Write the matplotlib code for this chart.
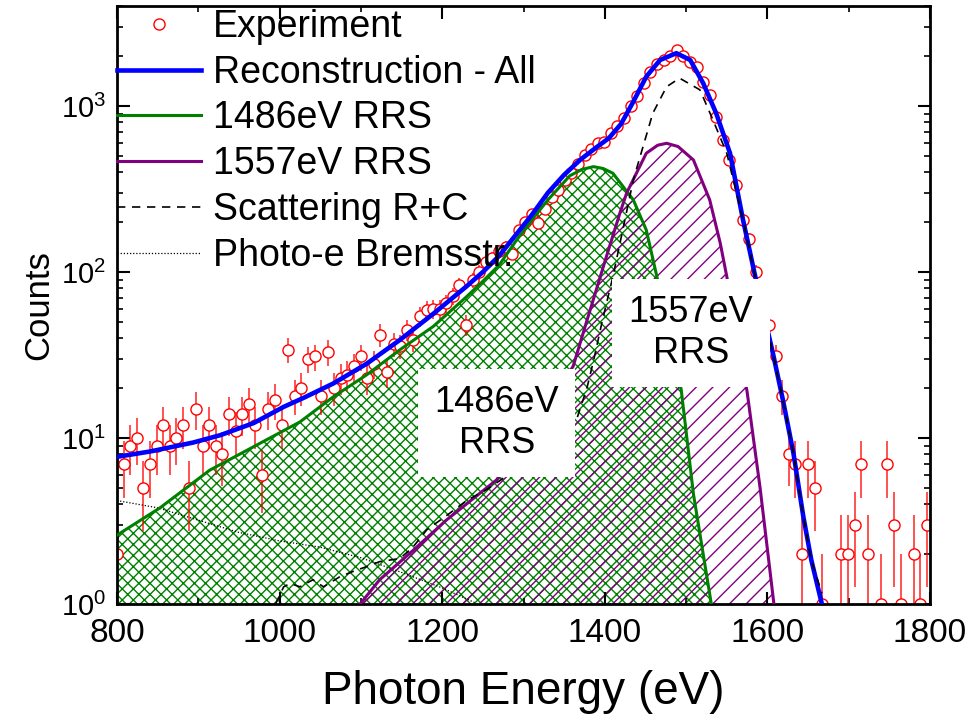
import numpy as np
import matplotlib
matplotlib.use("Agg")
import matplotlib.pyplot as plt
from matplotlib.ticker import LogLocator, MultipleLocator, NullFormatter

plt.rcParams['font.family'] = ['Liberation Sans', 'DejaVu Sans']
plt.rcParams['hatch.linewidth'] = 1.0

# measured spectrum (8.1 eV channels), 0 = empty channel
energy = [
    800.0, 808.1, 816.2, 824.3, 832.4, 840.5, 848.6, 856.7, 864.8, 872.9,
    881.0, 889.1, 897.2, 905.3, 913.4, 921.5, 929.6, 937.7, 945.8, 953.9,
    962.0, 970.1, 978.2, 986.3, 994.4, 1002.5, 1010.6, 1018.7, 1026.8, 1034.9,
    1043.0, 1051.1, 1059.2, 1067.3, 1075.4, 1083.5, 1091.6, 1099.7, 1107.8, 1115.9,
    1124.0, 1132.1, 1140.2, 1148.3, 1156.4, 1164.5, 1172.6, 1180.7, 1188.8, 1196.9,
    1205.0, 1213.1, 1221.2, 1229.3, 1237.4, 1245.5, 1253.6, 1261.7, 1269.8, 1277.9,
    1286.0, 1294.1, 1302.2, 1310.3, 1318.4, 1326.5, 1334.6, 1342.7, 1350.8, 1358.9,
    1367.0, 1375.1, 1383.2, 1391.3, 1399.4, 1407.5, 1415.6, 1423.7, 1431.8, 1439.9,
    1448.0, 1456.1, 1464.2, 1472.3, 1480.4, 1488.5, 1496.6, 1504.7, 1512.8, 1520.9,
    1529.0, 1537.1, 1545.2, 1553.3, 1561.4, 1569.5, 1577.6, 1585.7, 1593.8, 1601.9,
    1610.0, 1618.1, 1626.2, 1634.3, 1642.4, 1650.5, 1658.6, 1666.7, 1674.8, 1682.9,
    1691.0, 1699.1, 1707.2, 1715.3, 1723.4, 1731.5, 1739.6, 1747.7, 1755.8, 1763.9,
    1772.0, 1780.1, 1788.2, 1796.3,
]
counts = [
    2, 7, 9, 10, 5, 7, 9, 12, 9, 10,
    12, 5, 15, 9, 12, 9, 8, 14, 11, 14,
    16, 12, 6, 15, 17, 12, 34, 18, 20, 30,
    31, 18, 33, 20, 23, 24, 27, 31, 23, 28,
    42, 25, 37, 36, 45, 39, 54, 59, 60, 60,
    65, 72, 83, 48, 89, 100, 115, 121, 133, 142,
    129, 179, 200, 225, 196, 240, 284, 312, 358, 393,
    450, 505, 550, 596, 610, 690, 760, 843, 993, 1143,
    1380, 1600, 1800, 1900, 2000, 2170, 2000, 1850, 1720, 1400,
    1160, 860, 624, 473, 335, 206, 159, 100, 70, 48,
    31, 18, 8, 7, 2, 7, 5, 1, 0, 0,
    2, 2, 3, 7, 2, 0, 1, 7, 3, 1,
    0, 2, 1, 3,
]

# total reconstruction
recon_e = [800, 841, 866, 894, 927, 968, 1005, 1030, 1066, 1107, 1148, 1189, 1230,
           1250, 1270, 1290, 1310, 1330, 1350, 1370, 1390, 1405, 1420, 1435, 1451,
           1468, 1488, 1505, 1521, 1537, 1554, 1570, 1585, 1607, 1619, 1632, 1644,
           1654, 1667]
recon_y = [7.7, 8.3, 8.8, 9.4, 10.4, 12.3, 15.4, 17.5, 21.3, 28, 39, 56, 82,
           100, 125, 166, 220, 300, 385, 475, 565, 640, 780, 1060, 1503,
           1892, 2080, 1892, 1371, 903, 519, 206, 94, 32, 17, 8.1, 3.4,
           1.84, 1.0]

# 1486 eV resonant Raman component
rrs1486_e = [800, 853, 914, 976, 1025, 1066, 1107, 1148, 1189, 1230, 1250, 1270,
             1290, 1310, 1330, 1357, 1372, 1386, 1398, 1410, 1435, 1451, 1464,
             1494, 1509, 1531]
rrs1486_y = [2.6, 3.8, 6.4, 9.3, 12.5, 17.7, 24, 34, 47, 71, 88, 110,
             152, 205, 272, 380, 415, 431, 420, 393, 272, 179, 94,
             19.5, 4.6, 1.0]

# 1557 eV resonant Raman component
rrs1557_e = [1099, 1123, 1164, 1205, 1267, 1361, 1378, 1402, 1419, 1427, 1451,
             1465, 1476, 1490, 1509, 1529, 1542, 1550, 1575, 1591, 1608]
rrs1557_y = [1.0, 1.4, 2.1, 3.2, 5.6, 27, 51, 124, 230, 300, 519,
             580, 596, 570, 473, 272, 149, 94, 19, 5, 1.0]

# Rayleigh + Compton scattering
scat_e = [995, 1005, 1013, 1025, 1041, 1054, 1074, 1090, 1107, 1123, 1148, 1164,
          1181, 1205, 1230, 1255, 1270, 1300, 1330, 1365, 1378, 1386, 1397,
          1410, 1423, 1435, 1447, 1459, 1476, 1492, 1517, 1533, 1550, 1570,
          1585, 1607, 1619, 1632, 1644, 1654, 1667]
scat_y = [1.0, 1.27, 1.33, 1.27, 1.4, 1.27, 1.46, 1.57, 1.68, 1.8, 1.88, 2.2,
          2.8, 3.4, 4.2, 4.9, 5.5, 7, 9, 12.8, 20, 29, 51,
          94, 188, 358, 569, 903, 1306, 1470, 1250, 824, 519, 206,
          94, 32, 17, 8.1, 3.4, 1.84, 1.16]

# photo-electron bremsstrahlung
brems_e = [800, 850, 900, 950, 1000, 1050, 1100, 1150, 1200, 1240]
brems_y = [4.2, 3.8, 3.2, 2.7, 2.4, 2.2, 1.9, 1.55, 1.25, 1.02]

fig = plt.figure(figsize=(9.8, 7.24), dpi=100)
ax = fig.add_axes([0.1194, 0.1657, 0.8296, 0.826])
ax.set_yscale('log')

# hatched component areas
ax.fill_between(rrs1486_e, rrs1486_y, 1, facecolor='none', edgecolor='green',
                hatch='xxx', linewidth=0, zorder=1)
ax.fill_between(rrs1557_e, rrs1557_y, 1, facecolor='none', edgecolor='purple',
                hatch='//', linewidth=0, zorder=1.1)

e = np.array(energy)
c = np.array(counts, dtype=float)
m = c > 0
err = np.sqrt(c[m])
ax.errorbar(e[m], c[m], yerr=[np.minimum(err, c[m] * 0.999), err], fmt='none',
            ecolor='red', elinewidth=1.2, alpha=0.8, zorder=2.4)
ax.plot(e[m], c[m], 'o', ms=8, mfc='white', mec='red', mew=1.0,
        zorder=2.5, label='Experiment')

ax.plot(recon_e, recon_y, color='blue', lw=3.3, zorder=3, label='Reconstruction - All')
ax.plot(rrs1486_e, rrs1486_y, color='green', lw=2.2, zorder=2.8, label='1486eV RRS')
ax.plot(rrs1557_e, rrs1557_y, color='purple', lw=2.2, zorder=2.8, label='1557eV RRS')
ax.plot(scat_e, scat_y, color='black', lw=1.2, ls=(0, (5, 4)), zorder=3.5,
        label='Scattering R+C')
ax.plot(brems_e, brems_y, color='black', lw=0.9, ls=(0, (1, 1.5)), zorder=2.7,
        label='Photo-e Bremsstr.')

box = dict(boxstyle='square,pad=0.45', facecolor='white', edgecolor='none')
ax.text(1267, 12.3, '1486eV\nRRS', ha='center', va='center', fontsize=26,
        linespacing=1.2, bbox=box, zorder=10)
ax.text(1506, 43, '1557eV\nRRS', ha='center', va='center', fontsize=26,
        linespacing=1.2, bbox=box, zorder=10)

ax.set_xlim(800, 1800)
ax.set_ylim(1, 4000)
ax.xaxis.set_major_locator(MultipleLocator(200))
ax.xaxis.set_minor_locator(MultipleLocator(100))
ax.yaxis.set_major_locator(LogLocator(base=10))
ax.yaxis.set_minor_locator(LogLocator(base=10, subs=np.arange(2, 10)))
ax.yaxis.set_minor_formatter(NullFormatter())

ax.tick_params(which='both', direction='in', top=True, right=True)
ax.tick_params(which='major', length=9, width=1.5)
ax.tick_params(which='minor', length=4.5, width=1.2)
ax.tick_params(axis='x', labelsize=24, pad=10)
ax.tick_params(axis='y', labelsize=21, pad=8)
for s in ax.spines.values():
    s.set_linewidth(2)

ax.set_xlabel('Photon Energy (eV)', fontsize=33, labelpad=15)
ax.set_ylabel('Counts', fontsize=25, labelpad=4)

ax.legend(loc='upper left', bbox_to_anchor=(0, 0.995), borderaxespad=0, borderpad=0,
          frameon=False, fontsize=27, handlelength=2.25, handletextpad=0.3,
          labelspacing=0.26)

fig.savefig('out.png', dpi=100)
